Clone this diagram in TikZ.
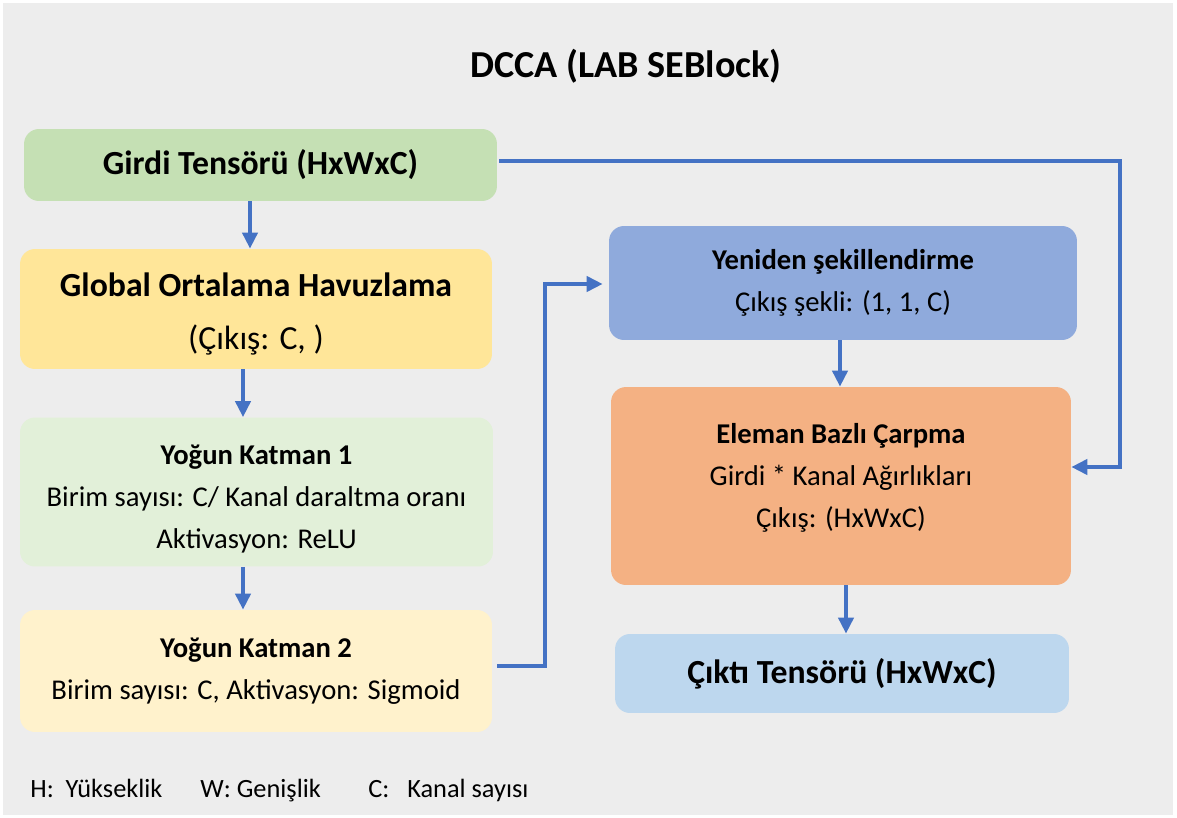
\documentclass[tikz,border=0pt]{standalone}
\usepackage{fontspec}
\setmainfont{Carlito}
\usetikzlibrary{arrows.meta}
\definecolor{bgGray}{HTML}{EDEDED}
\definecolor{flowBlue}{HTML}{4472C4}
\definecolor{inGreen}{HTML}{C5E0B4}
\definecolor{gapYellow}{HTML}{FFE699}
\definecolor{denseGreen}{HTML}{E2F0D9}
\definecolor{denseYellow}{HTML}{FFF2CC}
\definecolor{reshapeBlue}{HTML}{8FAADC}
\definecolor{mulOrange}{HTML}{F4B183}
\definecolor{outBlue}{HTML}{BDD7EE}
\tikzset{
  box/.style={rectangle, rounded corners=0.3cm, align=center, inner sep=0pt,
    font=\fontsize{16.3}{24}\selectfont},
  bigbox/.style={box, font=\bfseries\fontsize{19.2}{30}\selectfont},
  flow/.style={draw=flowBlue, line width=2.2pt, -{Triangle[length=0.32cm,width=0.3cm]}},
  legend/.style={anchor=base west, inner sep=0pt, font=\fontsize{15}{18}\selectfont},
}

\begin{document}
\begin{tikzpicture}[x=0.02cm,y=-0.02cm]
		%%%%% START %%%%%
		\fill[white] (0,0) rectangle (1177,818);
		\fill[bgGray] (3,3) rectangle (1173,815);
		
		\node[font=\bfseries\fontsize{21.7}{24}\selectfont] (title) at (626,66) {DCCA (LAB SEBlock)};
		
		% left column
		\node[bigbox, fill=inGreen, minimum width=9.46cm, minimum height=1.44cm] (girdi) at (260.5,165) {Girdi Tensörü (HxWxC)};
		\node[bigbox, fill=gapYellow, minimum width=9.44cm, minimum height=2.4cm] (gap) at (256,309) {\rule{0pt}{19.5pt}Global Ortalama Havuzlama\\{\mdseries (Çıkış: C, )}};
		\node[box, fill=denseGreen, minimum width=9.46cm, minimum height=2.98cm] (yk1) at (256.5,492) {\rule{0pt}{19pt}\textbf{Yoğun Katman 1}\\Birim sayısı: C/ Kanal daraltma oranı\\Aktivasyon: ReLU};
		\node[box, fill=denseYellow, minimum width=9.44cm, minimum height=2.44cm] (yk2) at (256,671) {\textbf{Yoğun Katman 2}\\Birim sayısı: C, Aktivasyon: Sigmoid};
		
		% right column
		\node[box, fill=reshapeBlue, minimum width=9.36cm, minimum height=2.28cm] (yeniden) at (843,283) {\textbf{Yeniden şekillendirme}\\Çıkış şekli: (1, 1, C)};
		\node[box, fill=mulOrange, minimum width=9.2cm, minimum height=3.96cm] (eleman) at (841,486) {\textbf{Eleman Bazlı Çarpma}\\Girdi * Kanal Ağırlıkları\\Çıkış: (HxWxC)\rule[-12pt]{0pt}{1pt}};
		\node[bigbox, fill=outBlue, minimum width=9.08cm, minimum height=1.58cm] (cikti) at (842,673.5) {Çıktı Tensörü (HxWxC)};
		
		% arrows
		\draw[flow] ([xshift=-0.21cm]girdi.south) -- ([xshift=-0.21cm]girdi.south |- gap.north);
		\draw[flow] ([xshift=-0.26cm]gap.south) -- ([xshift=-0.26cm]gap.south |- yk1.north);
		\draw[flow] ([xshift=-0.27cm]yk1.south) -- ([xshift=-0.27cm]yk1.south |- yk2.north);
		\draw[flow] ([xshift=-0.06cm]yeniden.south) -- ([xshift=-0.06cm]yeniden.south |- eleman.north);
		\draw[flow] ([xshift=0.1cm]eleman.south) -- ([xshift=0.1cm]eleman.south |- cikti.north);
		
		\coordinate (upA) at (545,284);
		\draw[flow, shorten >=0.12cm] ([xshift=0.1cm, yshift=0.1cm]yk2.east) -| (upA) -- (upA -| yeniden.west);
		\coordinate (dnB) at (1120,467);
		\draw[flow] ([xshift=0.04cm, yshift=0.08cm]girdi.east) -| (dnB) -- (dnB -| eleman.east);
		
		% legend
		\node[legend] (hLeg) at (30,797) {H:\ \ Yükseklik};
		\node[legend] (wLeg) at (200,797) {W: Genişlik};
		\node[legend] (cLeg) at (368,797) {C:\ \ \ Kanal sayısı};
		%%%%% END %%%%%
	\end{tikzpicture}
\end{document}
